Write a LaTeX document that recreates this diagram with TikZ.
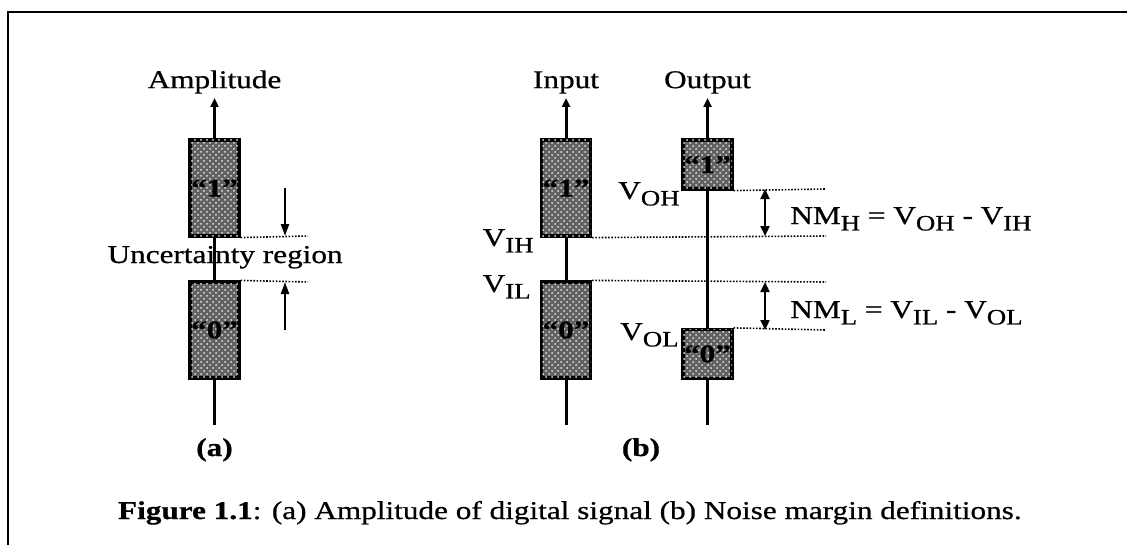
\documentclass[tikz,border=0pt]{standalone}
\usepackage{fontspec}
\setmainfont{Liberation Serif}[FakeStretch=1.22, FakeBold=0.7]
\usetikzlibrary{arrows.meta,positioning,patterns}
\newcommand{\lsub}[1]{\raisebox{-0.55ex}{\fontsize{11}{12}\selectfont #1}}

\begin{document}
\begin{tikzpicture}[
    x=0.5pt, y=-0.5pt,
    every node/.style={font=\fontsize{12.8}{14}\selectfont, inner sep=0pt},
    level/.style={draw, line width=1.6pt, fill=black!62, postaction={pattern=crosshatch dots, pattern color=white!80!gray},
        minimum width=24.5pt, font=\fontsize{12.8}{14}\selectfont\bfseries},
    tall/.style={level, minimum height=48pt},
    short/.style={level, minimum height=24.5pt},
    axis/.style={line width=1.5pt, -{Triangle[length=4.5pt, width=4pt]}},
    guide/.style={line width=0.8pt, dash pattern=on 0.8pt off 0.8pt},
    pointer/.style={line width=1.1pt, -{Triangle[length=6pt, width=4pt]}},
    margin/.style={line width=1.1pt, {Triangle[length=5pt, width=4.5pt]}-{Triangle[length=5pt, width=4.5pt]}}
]
\useasboundingbox (0,0) rectangle (1127,545);
\draw[line width=1.3pt] (8,545) -- (8,12) -- (1127,12);

% (a)
\coordinate (abot) at (214.5,425);
\coordinate (atop) at (214.5,98);
\draw[axis] (abot) -- (atop);
\node[above=2pt of atop] (amp) {Amplitude};
\node[tall] (a1) at (214.5,188) {``1''};
\node[tall] (a0) at (214.5,330) {``0''};
\coordinate (ahi) at (308,236);
\coordinate (alo) at (308,282);
\draw[guide] (a1.south east) -- (ahi);
\draw[guide] (a0.north east) -- (alo);
\coordinate (ahitail) at (285,188);
\coordinate (ahitip) at (285,236);
\coordinate (alotail) at (285,330);
\coordinate (alotip) at (285,282);
\draw[pointer] (ahitail) -- (ahitip);
\draw[pointer] (alotail) -- (alotip);
\node[anchor=base east] (unc) at (343,263) {Uncertainty region};
\node[font=\fontsize{12.8}{14}\selectfont\bfseries, anchor=base] (suba) at (214.5,456) {(a)};

% (b)
\coordinate (ibot) at (566,425);
\coordinate (itop) at (566,98);
\coordinate (obot) at (707.5,425);
\coordinate (otop) at (707.5,98);
\draw[axis] (ibot) -- (itop);
\draw[axis] (obot) -- (otop);
\node[above=2pt of itop] (input) {Input};
\node[above=2pt of otop] (output) {Output};
\node[tall] (i1) at (566,188) {``1''};
\node[tall] (i0) at (566,330) {``0''};
\node[short] (o1) at (707.5,164.5) {``1''};
\node[short] (o0) at (707.5,354) {``0''};
\coordinate (voh) at (826,189);
\coordinate (vih) at (826,236);
\coordinate (vil) at (826,282);
\coordinate (vol) at (826,330);
\draw[guide] (o1.south east) -- (voh);
\draw[guide] (i1.south east) -- (vih);
\draw[guide] (i0.north east) -- (vil);
\draw[guide] (o0.north east) -- (vol);
\coordinate (nmht) at (765,189);
\coordinate (nmhb) at (765,236);
\coordinate (nmlt) at (765,282);
\coordinate (nmlb) at (765,330);
\draw[margin] (nmht) -- (nmhb);
\draw[margin] (nmlt) -- (nmlb);
\node[anchor=base east] (lvih) at (534,246) {V\lsub{IH}};
\node[anchor=base east] (lvil) at (531,292) {V\lsub{IL}};
\node[anchor=base east] (lvoh) at (680,199) {V\lsub{OH}};
\node[anchor=base east] (lvol) at (679,340) {V\lsub{OL}};
\node[anchor=base west] (nmh) at (790,224) {NM\lsub{H} = V\lsub{OH} - V\lsub{IH}};
\node[anchor=base west] (nml) at (790,318) {NM\lsub{L} = V\lsub{IL} - V\lsub{OL}};
\node[font=\fontsize{12.8}{14}\selectfont\bfseries, anchor=base] (subb) at (641,456) {(b)};

\node[anchor=base east] (caption) at (1022,519) {\textbf{Figure 1.1}: (a) Amplitude of digital signal (b) Noise margin definitions.};
\end{tikzpicture}
\end{document}
